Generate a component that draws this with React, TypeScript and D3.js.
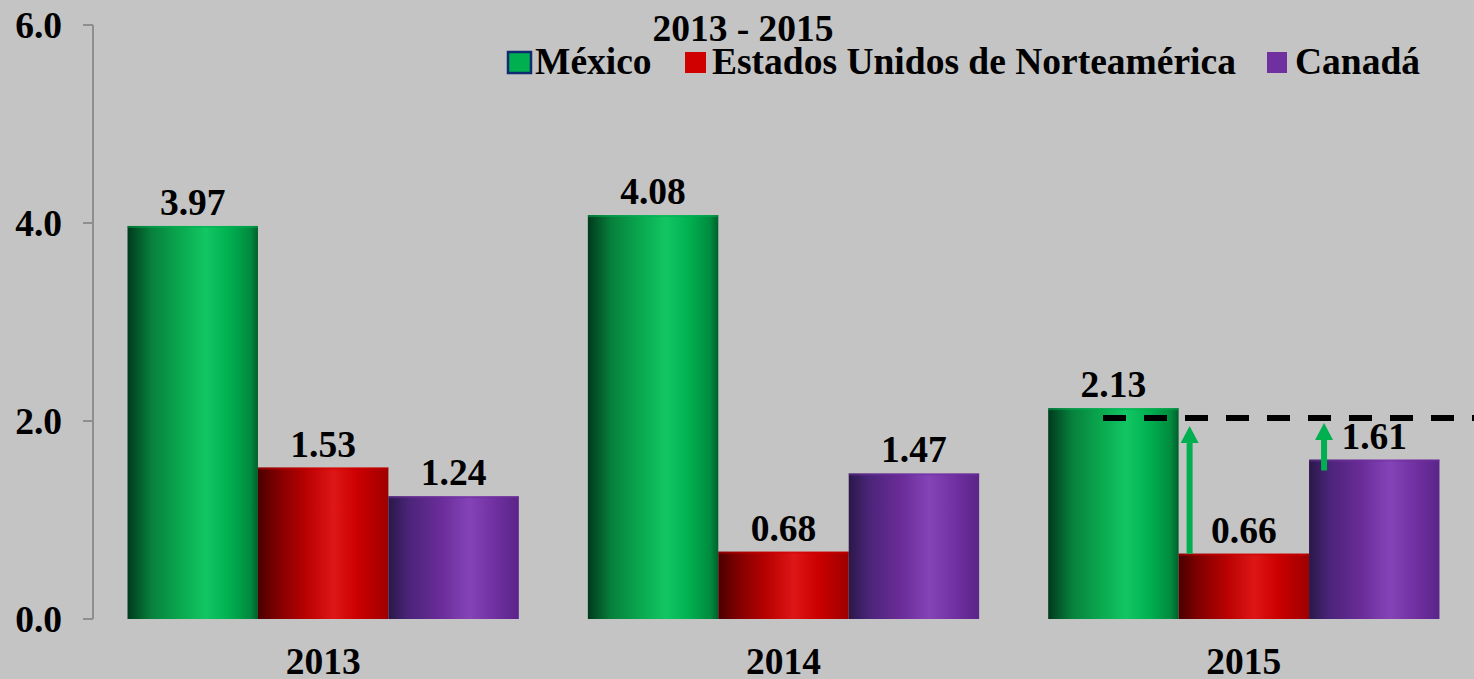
import React from "react";
import * as d3 from "d3";

const years = ["2013", "2014", "2015"];
const seriesNames = ["México", "Estados Unidos de Norteamérica", "Canadá"];
const mexico = [3.97, 4.08, 2.13];
const usa = [1.53, 0.68, 0.66];
const canada = [1.24, 1.47, 1.61];
const yTicks = [0, 2, 4, 6];
const title = "2013 - 2015";
const refLevel = 2.03;
const arrowFrom = [0.66, 1.5];
const arrowTo = [1.95, 1.98];

const W = 1474;
const H = 679;
const FONT = "'Liberation Serif', 'Times New Roman', serif";
const FS = 37.5;

const gradients = [
  { id: "gGreen", stops: [["0%", "#003a1c"], ["18%", "#07803c"], ["40%", "#0aa84f"], ["60%", "#12c663"], ["78%", "#00b050"], ["94%", "#008a3e"], ["100%", "#00602c"]] },
  { id: "gRed", stops: [["0%", "#4a0000"], ["15%", "#800000"], ["38%", "#bb0202"], ["58%", "#de1616"], ["76%", "#cc0000"], ["100%", "#9e0000"]] },
  { id: "gPurple", stops: [["0%", "#2a1848"], ["15%", "#4a2478"], ["40%", "#6a2c98"], ["62%", "#8444b8"], ["82%", "#7030a0"], ["100%", "#5a2488"]] },
];
const solid = ["#00b050", "#d00000", "#7030a0"];

export default function App() {
  const values = [mexico, usa, canada];
  const x0 = d3.scaleBand<string>().domain(years).range([93, 1474]).paddingInner(0.15).paddingOuter(0.075);
  const x1 = d3.scaleBand<number>().domain([0, 1, 2]).range([0, x0.bandwidth()]);
  const y = d3.scaleLinear().domain([0, 6]).range([619, 25]);

  const g3 = x0("2015")!;
  const arrowXs = [g3 + x1(1)! + 11, g3 + x1(2)! + 15];

  const legendItems = [
    { box: 508, text: 535, w: 23 },
    { box: 685, text: 712, w: 21 },
    { box: 1267, text: 1295, w: 20 },
  ];

  return (
    <div style={{ position: "fixed", left: 0, top: 0 }}>
      <svg width={W} height={H} style={{ display: "block" }}>
        <defs>
          {gradients.map((g) => (
            <linearGradient key={g.id} id={g.id} x1="0" x2="1" y1="0" y2="0">
              {g.stops.map(([o, c]) => (
                <stop key={o} offset={o} stopColor={c} />
              ))}
            </linearGradient>
          ))}
        </defs>
        <rect x={0} y={0} width={W} height={H} fill="#c4c4c4" />

        {/* axis */}
        <line x1={93} x2={93} y1={y(6)} y2={y(0)} stroke="#8e8e8e" strokeWidth={2} />
        {yTicks.map((t) => (
          <g key={t}>
            <line x1={83} x2={93} y1={y(t)} y2={y(t)} stroke="#8e8e8e" strokeWidth={2} />
            <text x={62} y={y(t) + 13} textAnchor="end" fontFamily={FONT} fontWeight="bold" fontSize={FS} fill="#000">
              {d3.format(".1f")(t)}
            </text>
          </g>
        ))}

        {/* bars */}
        {years.map((yr, i) => (
          <g key={yr} transform={`translate(${x0(yr)},0)`}>
            {values.map((s, k) => {
              const v = s[i];
              const bx = x1(k)!;
              const bw = x1.bandwidth();
              return (
                <g key={k}>
                  <rect x={bx} y={y(v)} width={bw} height={y(0) - y(v)} fill={`url(#${gradients[k].id})`} />
                  <rect x={bx} y={y(v)} width={bw} height={2} fill={solid[k]} opacity={0.5} />
                  <text x={bx + bw / 2} y={y(v) - 11} textAnchor="middle" fontFamily={FONT} fontWeight="bold" fontSize={FS} fill="#000">
                    {v.toFixed(2)}
                  </text>
                </g>
              );
            })}
            <text x={x0.bandwidth() / 2} y={674} textAnchor="middle" fontFamily={FONT} fontWeight="bold" fontSize={FS} fill="#000">
              {yr}
            </text>
          </g>
        ))}

        {/* annotation */}
        <line x1={1103} x2={W} y1={y(refLevel)} y2={y(refLevel)} stroke="#000" strokeWidth={6} strokeDasharray="23 18" />
        {arrowXs.map((ax, i) => {
          const yb = y(arrowFrom[i]);
          const yt = y(arrowTo[i]);
          return (
            <g key={i}>
              <line x1={ax} x2={ax} y1={yb} y2={yt + 14} stroke="#00b050" strokeWidth={6} />
              <path d={`M${ax - 9},${yt + 17} L${ax + 9},${yt + 17} L${ax},${yt} Z`} fill="#00b050" />
            </g>
          );
        })}

        {/* title & legend */}
        <text x={743} y={41} textAnchor="middle" fontFamily={FONT} fontWeight="bold" fontSize={FS} fill="#000">
          {title}
        </text>
        {seriesNames.map((n, k) => (
          <g key={n}>
            <rect
              x={legendItems[k].box}
              y={52}
              width={legendItems[k].w}
              height={21}
              fill={solid[k]}
              stroke={k === 0 ? "#0f2a6e" : "none"}
              strokeWidth={k === 0 ? 2.5 : 0}
            />
            <text x={legendItems[k].text} y={74} fontFamily={FONT} fontWeight="bold" fontSize={FS} fill="#000">
              {n}
            </text>
          </g>
        ))}
      </svg>
    </div>
  );
}
